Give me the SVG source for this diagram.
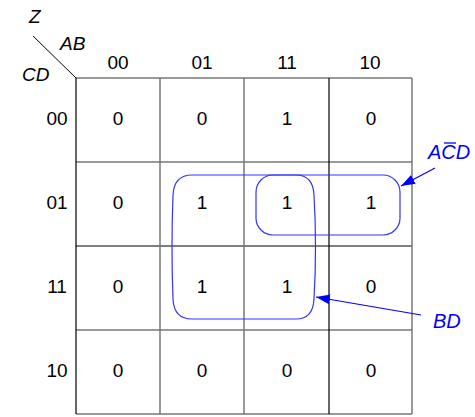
<svg xmlns="http://www.w3.org/2000/svg" width="475" height="417" viewBox="0 0 475 417">
<defs>
<style>
text{font-family:"Liberation Sans",Arial,sans-serif;font-size:19px;fill:#000}
.c{text-anchor:middle}
.i{font-style:italic}
.b{fill:#0000ff;font-size:20px}
.g{stroke:#777;stroke-width:1.5;fill:none}
.k{stroke:#000;stroke-width:1.2;fill:none}
.loop{fill:none;stroke:#3333ff;stroke-width:1.2}
.arr{stroke:#0000ff;stroke-width:1.2;fill:none}
</style>
<marker id="ah" viewBox="0 0 14 10" refX="14" refY="5" markerWidth="14" markerHeight="10" markerUnits="userSpaceOnUse" orient="auto"><path d="M0,0L14,5L0,10Z" fill="#0000ff"/></marker>
</defs>
<g id="grid">
<line class="g" x1="76" y1="78" x2="412" y2="78"/>
<line class="g" x1="76" y1="162" x2="412" y2="162"/>
<line class="k" x1="76" y1="246" x2="412" y2="246"/>
<line class="g" x1="76" y1="330" x2="412" y2="330"/>
<line class="g" x1="76" y1="414" x2="412" y2="414"/>
<line class="k" x1="76" y1="78" x2="76" y2="414"/>
<line class="g" x1="160" y1="78" x2="160" y2="414"/>
<line class="g" x1="244" y1="78" x2="244" y2="414"/>
<line class="k" x1="329" y1="78" x2="329" y2="414"/>
<line class="g" x1="412" y1="78" x2="412" y2="414"/>
<line stroke="#000" stroke-width="1" x1="33" y1="36" x2="76" y2="78"/>
</g>
<g id="headers">
<text class="i" x="29" y="23">Z</text>
<text class="i" x="60" y="50">AB</text>
<text class="i" x="22" y="81">CD</text>
<text class="c" x="118" y="69">00</text>
<text class="c" x="202" y="69">01</text>
<text class="c" x="287" y="69">11</text>
<text class="c" x="370" y="69">10</text>
<text class="c" x="57" y="125">00</text>
<text class="c" x="57" y="209">01</text>
<text class="c" x="57" y="293">11</text>
<text class="c" x="57" y="377">10</text>
</g>
<g id="cells">
<text class="c" x="118" y="125">0</text>
<text class="c" x="202" y="125">0</text>
<text class="c" x="287" y="125">1</text>
<text class="c" x="371" y="125">0</text>
<text class="c" x="118" y="209">0</text>
<text class="c" x="202" y="209">1</text>
<text class="c" x="287" y="209">1</text>
<text class="c" x="371" y="209">1</text>
<text class="c" x="118" y="293">0</text>
<text class="c" x="202" y="293">1</text>
<text class="c" x="287" y="293">1</text>
<text class="c" x="371" y="293">0</text>
<text class="c" x="118" y="377">0</text>
<text class="c" x="202" y="377">0</text>
<text class="c" x="287" y="377">0</text>
<text class="c" x="371" y="377">0</text>
</g>
<g id="loop-BD">
<path class="loop" d="M192,175 L296,175 Q313,175 314,195 Q317,247 314,299 Q313,319 296,319 L192,319 Q174,319 173,299 Q171,247 173,195 Q174,175 192,175 Z"/>
</g>
<g id="loop-ACD">
<rect class="loop" x="256" y="175" width="144" height="60" rx="17" ry="17"/>
</g>
<g id="connectors">
<line class="arr" x1="435" y1="168" x2="401" y2="186" marker-end="url(#ah)"/>
<line class="arr" x1="421" y1="315" x2="316" y2="297" marker-end="url(#ah)"/>
</g>
<g id="labels">
<text class="i b" x="428" y="159">ACD</text>
<line stroke="#0000ff" stroke-width="1.3" x1="444" y1="143" x2="456" y2="143"/>
<text class="i b" x="433" y="328">BD</text>
</g>
</svg>
